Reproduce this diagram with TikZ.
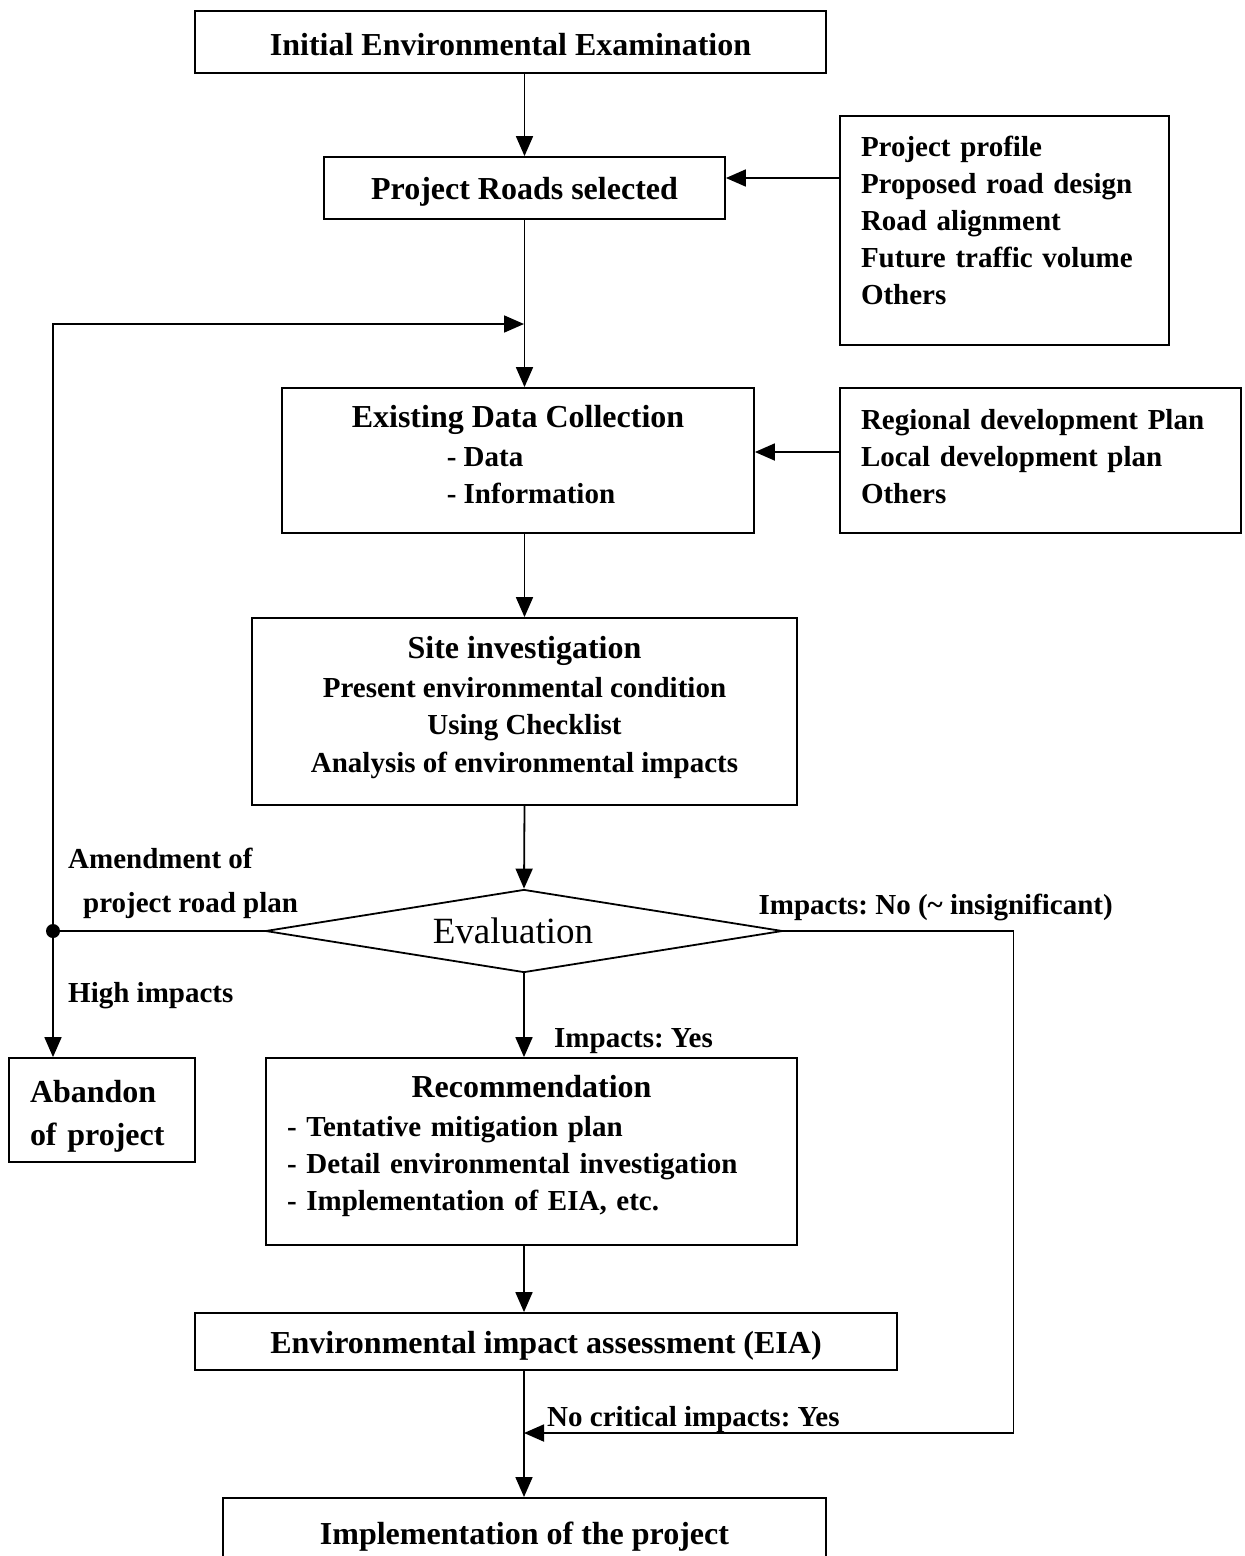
\documentclass[tikz,border=0pt]{standalone}
\usepackage{fontspec}
\setmainfont{Liberation Serif}
\usetikzlibrary{arrows.meta,shapes.geometric}

\newcommand{\subfont}{\fontsize{29}{37}\selectfont}
\tikzset{
  box/.style={draw, line width=1.8pt, inner sep=0pt, align=center,
    font=\frenchspacing\bfseries\fontsize{32}{37}\selectfont},
  listbox/.style={box, align=left, inner xsep=21pt,
    font=\frenchspacing\bfseries\subfont},
  flow/.style={line width=1.8pt, -{Triangle[length=20pt,width=17pt]}},
  lbl/.style={inner sep=0pt, anchor=base west,
    font=\frenchspacing\bfseries\fontsize{29}{35}\selectfont},
}

\begin{document}
\begin{tikzpicture}[x=1pt,y=-1pt]
    \clip (0,0) rectangle (1245,1556);

    % Main column
    \node[box, minimum width=631pt, minimum height=62pt] (iee) at (510.5,42) {\rule{0pt}{27pt}Initial Environmental Examination};
    \node[box, minimum width=401pt, minimum height=62pt] (roads) at (524.5,188) {\rule{0pt}{29pt}Project Roads selected};
    \node[box, minimum width=472pt, minimum height=145pt] (data) at (518,460.5) {Existing Data Collection\\[2pt]\subfont\hspace*{95pt}- Data\hfill\null\\\subfont\hspace*{95pt}- Information\rule[-13pt]{0pt}{13pt}\hfill\null};
    \node[box, minimum width=545pt, minimum height=187pt] (site) at (524.5,711.5) {Site investigation\\[2pt]\subfont Present environmental condition\\\subfont Using Checklist\\[1pt]\subfont Analysis of environmental impacts\rule[-14pt]{0pt}{14pt}};
    \node[draw, diamond, line width=1.8pt, inner sep=0pt, aspect=6.2, minimum width=517pt, minimum height=83pt, font=\fontsize{37}{40}\selectfont] (eval) at (524,931) {\hspace*{-22pt}Evaluation};
    \node[listbox, minimum width=531pt, minimum height=187pt, text width=489pt] (rec) at (531.5,1151.5) {\makebox[489pt]{\fontsize{32}{37}\selectfont Recommendation}\\[2pt]- Tentative mitigation plan\\- Detail environmental investigation\\- Implementation of EIA, etc.\rule[-18pt]{0pt}{18pt}};
    \node[box, minimum width=702pt, minimum height=57pt] (eia) at (546,1341.5) {\rule{0pt}{31pt}Environmental impact assessment (EIA)};
    \node[box, anchor=north, minimum width=603pt, inner ysep=24pt] (impl) at (524.5,1497) {Implementation of the project};

    % Side boxes
    \node[listbox, minimum width=329pt, minimum height=229pt, text width=287pt] (profile) at (1004.5,230.5) {Project profile\\Proposed road design\\Road alignment\\Future traffic volume\\Others\rule[-20pt]{0pt}{20pt}};
    \node[listbox, minimum width=401pt, minimum height=145pt, text width=359pt] (plans) at (1040.5,460.5) {Regional development Plan\\Local development plan\\Others\rule[-9pt]{0pt}{9pt}};
    \node[box, align=left, inner xsep=21pt, minimum width=186pt, minimum height=104pt, text width=144pt] (abandon) at (102,1110) {\rule{0pt}{35pt}Abandon\\[6pt]of project};

    % Junctions
    \node[circle, fill, inner sep=0pt, minimum size=14pt] (dot) at (53,931) {};
    \coordinate (merge) at (524,324);
    \coordinate (nocrit) at (524,1433);

    % Connectors
    \draw[flow] (iee.south -| roads.north) -- (roads.north);
    \draw[flow] (roads.south) -- (roads.south |- data.north);
    \draw[flow] (profile.west |- 0,178) -- (roads.east |- 0,178);
    \draw[flow] (plans.west |- 0,452) -- (data.east |- 0,452);
    \draw[flow] (data.south -| site.north) -- (site.north);
    \draw[flow] (site.south) -- (eval.north);
    \draw[line width=1.8pt] (eval.west) -- (dot);
    \draw[flow] (dot.center) |- (merge);
    \draw[flow] (dot.center) -- (dot.center |- abandon.north);
    \draw[flow] (eval.south) -- (eval.south |- rec.north);
    \draw[flow] (rec.south -| eval.south) -- (eia.north -| eval.south);
    \draw[flow] (eia.south -| eval.south) -- (impl.north -| eval.south);
    \draw[flow] (eval.east) -- ++(230,0) |- (nocrit);

    % Labels
    \node[lbl] (amend) at (68,868) {Amendment of};
    \node[lbl] (amend2) at (83,912) {project road plan};
    \node[lbl] (high) at (68,1002) {High impacts};
    \node[lbl] (yes) at (554,1047) {Impacts: Yes};
    \node[lbl, anchor=base east] (no) at (1113,914) {Impacts: No (\textasciitilde\ insignificant)};
    \node[lbl] (crit) at (547,1426) {No critical impacts: Yes};
\end{tikzpicture}
\end{document}
